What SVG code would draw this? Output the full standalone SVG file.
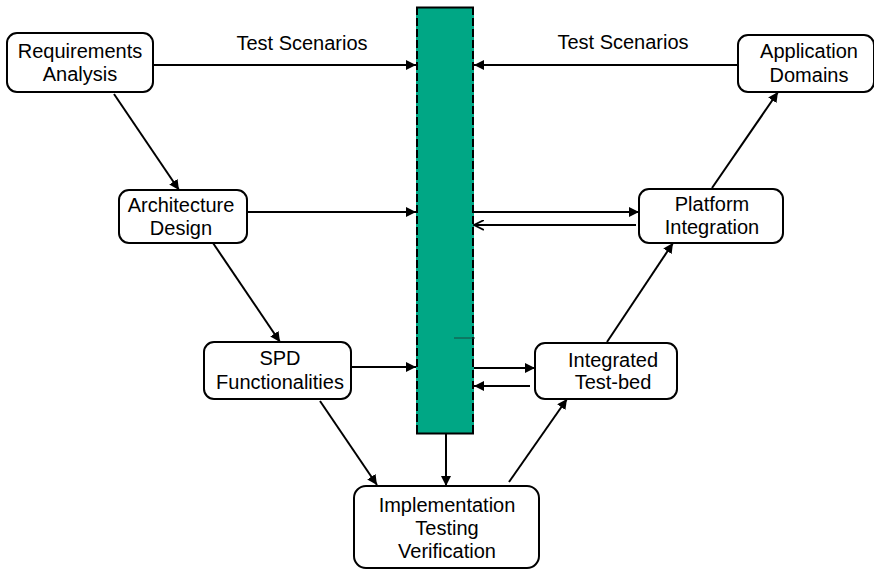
<svg xmlns="http://www.w3.org/2000/svg" width="874" height="572" viewBox="0 0 874 572">
<defs>
<style>
.box{fill:#fff;stroke:#000;stroke-width:2}
.t{font-family:"Liberation Sans",Arial,sans-serif;font-size:20px;fill:#000;text-anchor:middle}
.c{stroke:#000;stroke-width:2;fill:none}
.ca{stroke:#000;stroke-width:2;fill:none;marker-end:url(#ah)}
.co{stroke:#000;stroke-width:2;fill:none;marker-end:url(#ao)}
</style>
<marker id="ah" viewBox="0 0 10 10" refX="10" refY="5" markerWidth="5" markerHeight="5" markerUnits="strokeWidth" orient="auto">
<path d="M0,0 L10,5 L0,10 Z" fill="#000"/>
</marker>
<marker id="ao" viewBox="0 0 10 10" refX="9" refY="5" markerWidth="5.5" markerHeight="5.5" markerUnits="strokeWidth" orient="auto">
<path d="M0,0.5 L9,5 L0,9.5" fill="none" stroke="#000" stroke-width="1.6"/>
</marker>
</defs>
<rect width="874" height="572" fill="#fff"/>

<g id="bar">
<rect x="416" y="7" width="58" height="427" fill="#00A785"/>
<line x1="416" y1="7.5" x2="474" y2="7.5" stroke="#000" stroke-width="2"/>
<line x1="417" y1="7" x2="417" y2="434" stroke="#000" stroke-width="2" stroke-dasharray="8 3"/>
<line x1="473" y1="7" x2="473" y2="434" stroke="#000" stroke-width="2" stroke-dasharray="8 3"/>
<line x1="416" y1="433.5" x2="474" y2="433.5" stroke="#000" stroke-width="2"/>
<line x1="454" y1="338" x2="475" y2="338" stroke="#1a4a40" stroke-width="1"/>
</g>

<g id="connectors">
<line class="ca" x1="153" y1="65" x2="416" y2="65"/>
<line class="ca" x1="738" y1="65" x2="474" y2="65"/>
<line class="ca" x1="114" y1="94" x2="179" y2="190"/>
<line class="ca" x1="248" y1="212" x2="416" y2="212"/>
<line class="ca" x1="474" y1="212" x2="639" y2="212"/>
<line class="co" x1="636" y1="225" x2="474" y2="225"/>
<line class="ca" x1="712" y1="188" x2="778" y2="92"/>
<line class="ca" x1="213" y1="243" x2="280" y2="342"/>
<line class="ca" x1="351" y1="367" x2="416" y2="367"/>
<line class="ca" x1="474" y1="368" x2="535" y2="368"/>
<line class="ca" x1="530" y1="386" x2="474" y2="386"/>
<line class="ca" x1="607" y1="342" x2="673" y2="243"/>
<line class="ca" x1="320" y1="401" x2="377" y2="485"/>
<line class="ca" x1="446" y1="434" x2="446" y2="486"/>
<line class="ca" x1="509" y1="482" x2="567" y2="399"/>
<text class="t" x="302" y="50">Test Scenarios</text>
<text class="t" x="623" y="49">Test Scenarios</text>
</g>

<g id="requirements">
<rect class="box" x="7" y="33" width="146" height="59" rx="10"/>
<text class="t" x="80" y="58">Requirements</text>
<text class="t" x="80" y="81">Analysis</text>
</g>
<g id="architecture">
<rect class="box" x="119" y="190" width="128" height="53" rx="10"/>
<text class="t" x="181" y="212">Architecture</text>
<text class="t" x="181" y="235">Design</text>
</g>
<g id="spd">
<rect class="box" x="204" y="342" width="147" height="57" rx="10"/>
<text class="t" x="280" y="365">SPD</text>
<text class="t" x="280" y="389">Functionalities</text>
</g>
<g id="implementation">
<rect class="box" x="354" y="486" width="185" height="82" rx="12"/>
<text class="t" x="447" y="512">Implementation</text>
<text class="t" x="447" y="535">Testing</text>
<text class="t" x="447" y="558">Verification</text>
</g>
<g id="integrated">
<rect class="box" x="535" y="343" width="142" height="56" rx="10"/>
<text class="t" x="613" y="367">Integrated</text>
<text class="t" x="613" y="389">Test-bed</text>
</g>
<g id="platform">
<rect class="box" x="639" y="189" width="144" height="54" rx="10"/>
<text class="t" x="712" y="211">Platform</text>
<text class="t" x="712" y="234">Integration</text>
</g>
<g id="application">
<rect class="box" x="738" y="35" width="136" height="57" rx="10"/>
<text class="t" x="809" y="58">Application</text>
<text class="t" x="809" y="82">Domains</text>
</g>
</svg>
